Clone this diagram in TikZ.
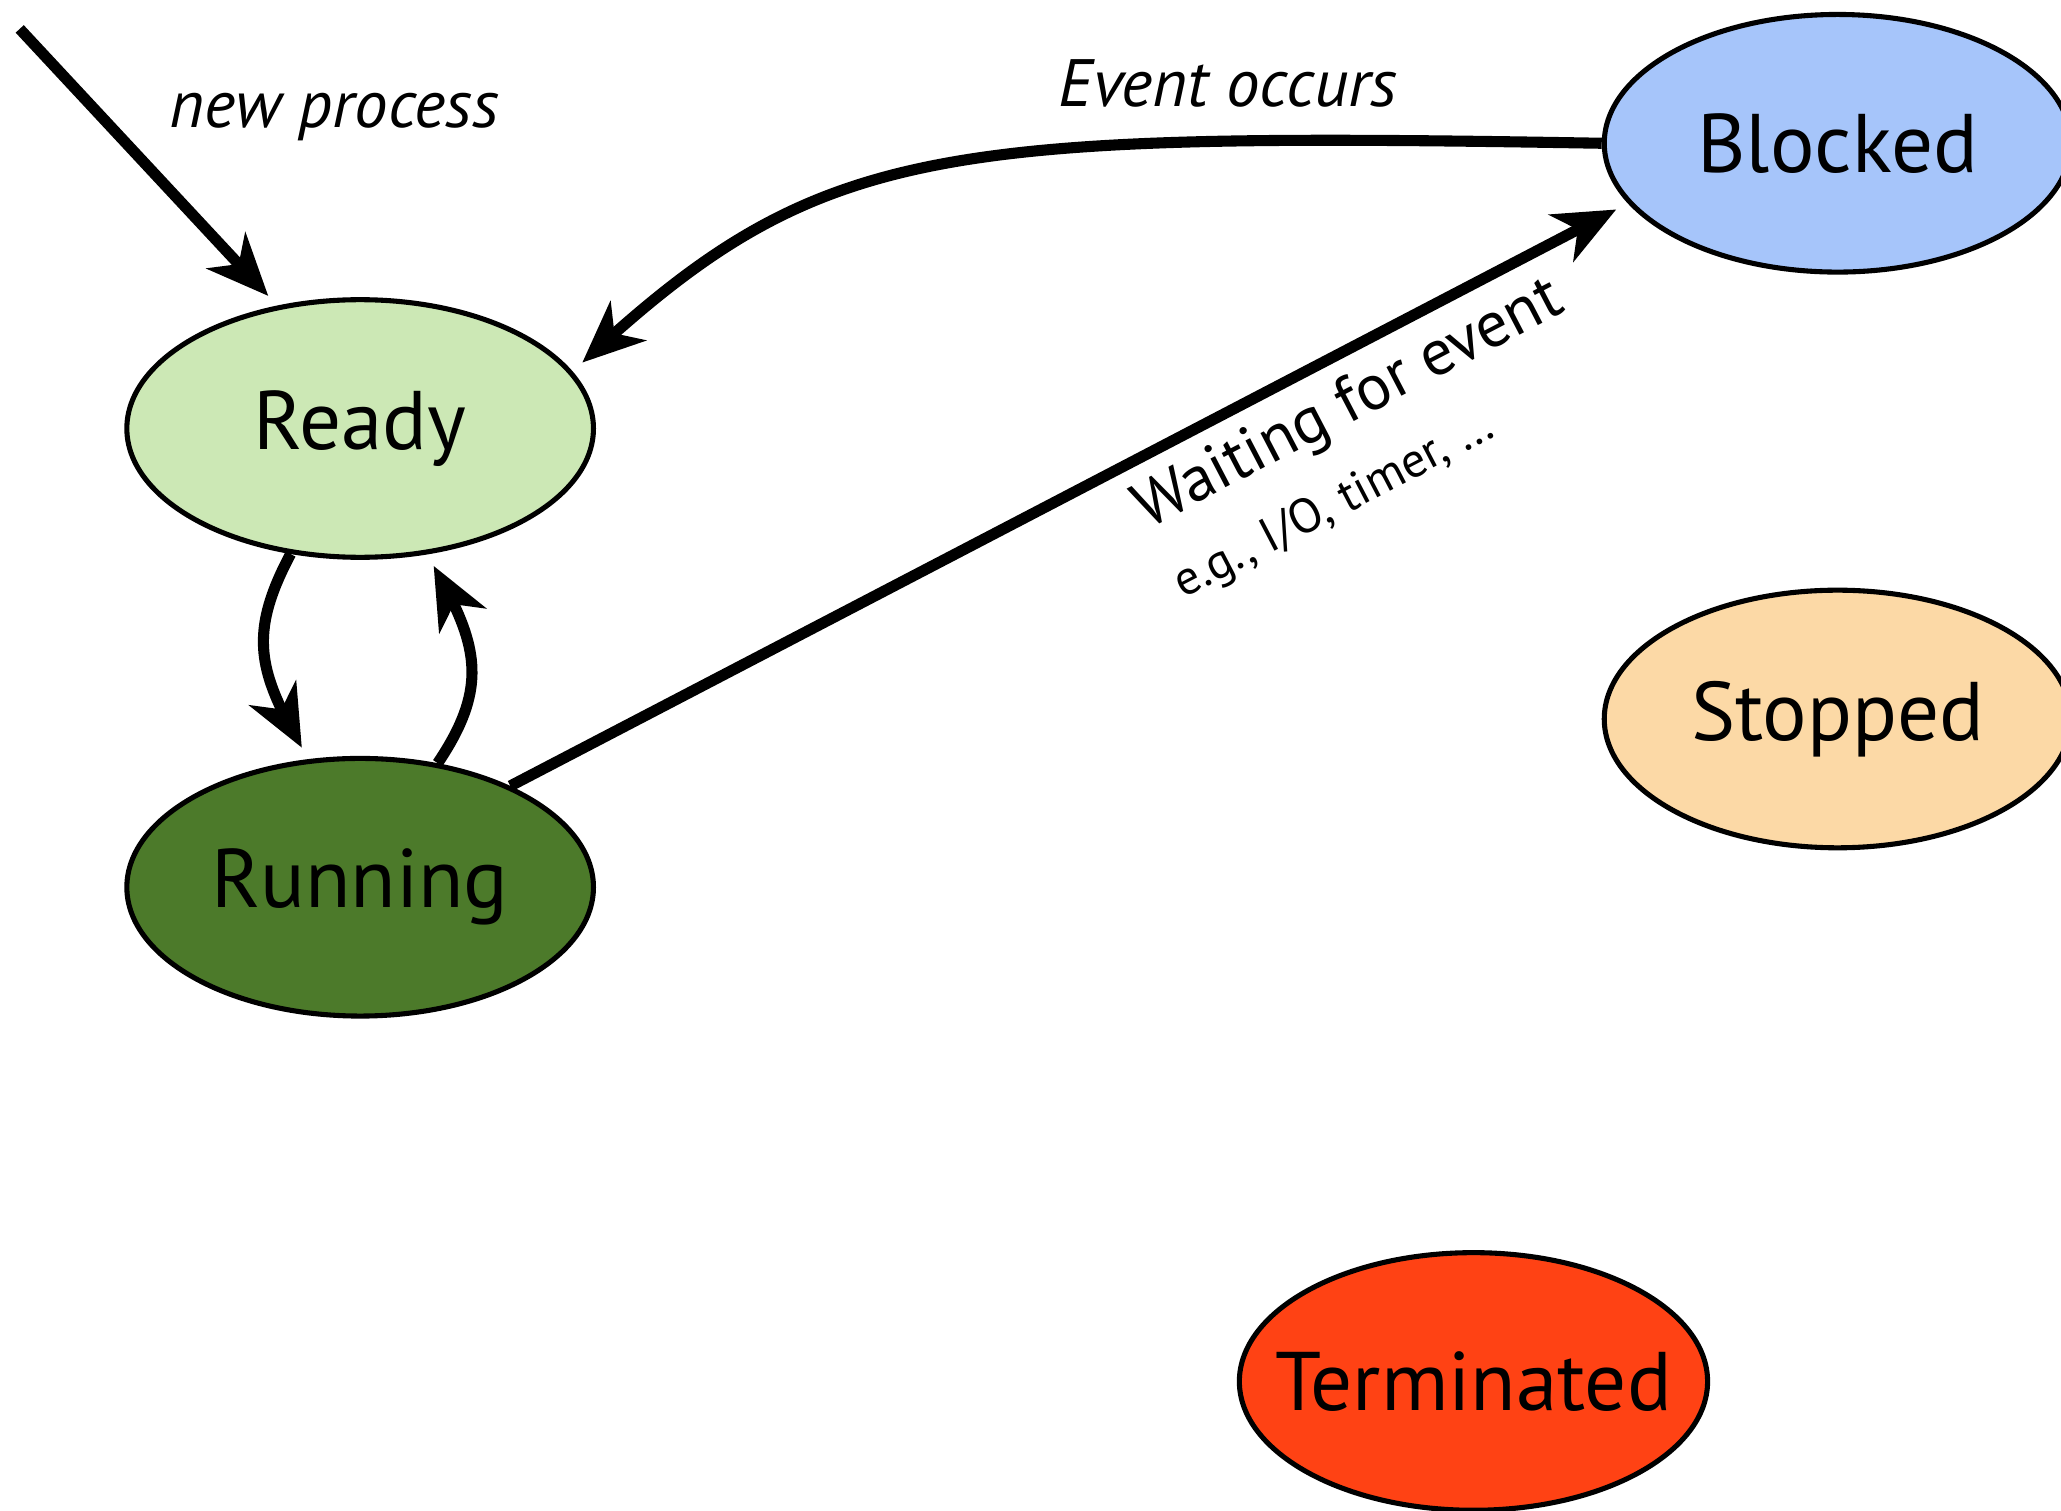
\documentclass[tikz,border=0pt]{standalone}
\usepackage{fontspec}
\setmainfont{PT Sans}
\usepackage{xcolor}
\usetikzlibrary{shapes, positioning, arrows.meta, bending}
\definecolor{readyfill}{RGB}{204,232,181}
\definecolor{runningfill}{RGB}{76,122,42}
\definecolor{blockedfill}{RGB}{166,197,250}
\definecolor{stoppedfill}{RGB}{252,217,166}
\definecolor{termfill}{RGB}{255,66,20}

\begin{document}
\begin{tikzpicture}[
    state/.style={ellipse, draw=black, line width=1.1pt, minimum width=3.55cm, minimum height=1.96cm, inner ysep=0pt, inner xsep=-2.5mm, font=\fontsize{18}{20}\selectfont},
    trans/.style={-{Stealth[length=4.7mm, width=4mm, inset=1.4mm, flex]}, line width=2.4pt, shorten >=1mm},
    lbl/.style={font=\fontsize{14.5}{17}\selectfont\itshape}
  ]
  \useasboundingbox (0,0) rectangle (15.68,-11.49);
  \node[state, fill=readyfill] at (2.74, -3.26) (ready) {Ready};
  \node[state, fill=runningfill] at (2.74, -6.75) (running) {Running};
  \node[state, fill=blockedfill] at (13.98, -1.09) (blocked) {Blocked};
  \node[state, fill=stoppedfill] at (13.98, -5.47) (stopped) {Stopped};
  \node[state, fill=termfill] at (11.21, -10.51) (terminated) {Terminated};
  \coordinate (newproc) at (0.15, -0.22);

  \draw[trans] (newproc) -- node[lbl, pos=0.32, right=3.5mm]{new process} (ready.124);
  \draw[trans] (blocked.west) .. controls (7.0, -1.0) and (6.2, -1.1) .. node[lbl, pos=0.22, above=1mm]{Event occurs} (ready.15);
  \draw[trans] (running.34) -- node[sloped, below, pos=0.73, align=left, font=\fontsize{14}{17}\selectfont]{Waiting for event\\{\fontsize{10.5}{12}\selectfont e.g., I/O, timer, \dots}} (blocked.196);
  \draw[trans] (ready.241) to[out=242, in=120, looseness=1.2] (running.112);
  \draw[trans] (running.58) to[out=56, in=-60, looseness=1.2] (ready.298);
\end{tikzpicture}
\end{document}
